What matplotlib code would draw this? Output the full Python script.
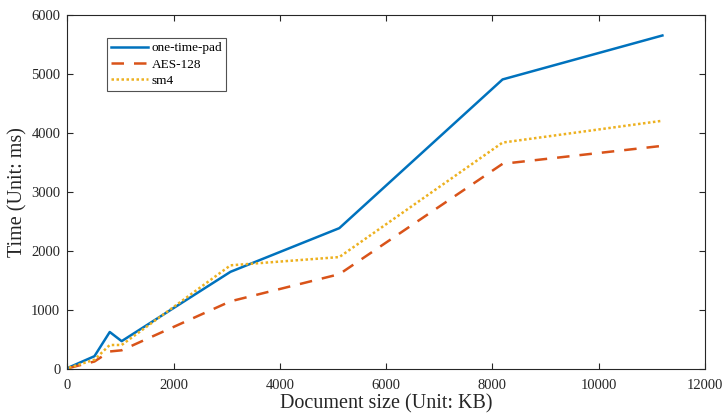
import numpy as np
import matplotlib.pyplot as plt

# document sizes (KB) and encryption times (ms)
doc_size = [32, 512, 800, 1024, 3072, 5120, 8192, 11200]
otp = [30, 220, 630, 475, 1650, 2390, 4910, 5655]
aes128 = [20, 130, 300, 320, 1150, 1610, 3480, 3785]
sm4 = [25, 160, 410, 410, 1760, 1900, 3840, 4210]

plt.rcParams['font.family'] = ['Liberation Serif', 'DejaVu Serif']

fig = plt.figure(figsize=(7.23, 4.2), dpi=100)
ax = fig.add_axes([0.093, 0.121, 0.882, 0.843])

ax.plot(doc_size, otp, color='#0072BD', lw=1.8, label='one-time-pad')
ax.plot(doc_size, aes128, color='#D95319', lw=1.8, ls=(0, (5, 4)), label='AES-128')
ax.plot(doc_size, sm4, color='#EDB120', lw=1.8, ls=(0, (1, 1)), label='sm4')

ax.set_xlim(0, 12000)
ax.set_ylim(0, 6000)
ax.set_xticks(np.arange(0, 12001, 2000))
ax.set_yticks(np.arange(0, 6001, 1000))
ax.tick_params(direction='in', top=True, right=True, labelsize=10.5,
               colors='#262626', length=4)
ax.tick_params(axis='x', pad=7)
ax.tick_params(axis='y', pad=5)
for s in ax.spines.values():
    s.set_color('#262626')
    s.set_linewidth(0.8)

ax.set_xlabel('Document size (Unit: KB)', fontsize=14.5, color='#262626', labelpad=2)
ax.set_ylabel('Time (Unit: ms)', fontsize=14.5, color='#262626', labelpad=3)

leg = ax.legend(loc='upper left', bbox_to_anchor=(0.063, 0.935), fontsize=9.5,
                frameon=True, fancybox=False, edgecolor='#262626',
                handlelength=2.8, handletextpad=0.25, borderpad=0.3,
                labelspacing=0.3, borderaxespad=0)
leg.get_frame().set_linewidth(0.8)

fig.savefig('out.png', dpi=100)
